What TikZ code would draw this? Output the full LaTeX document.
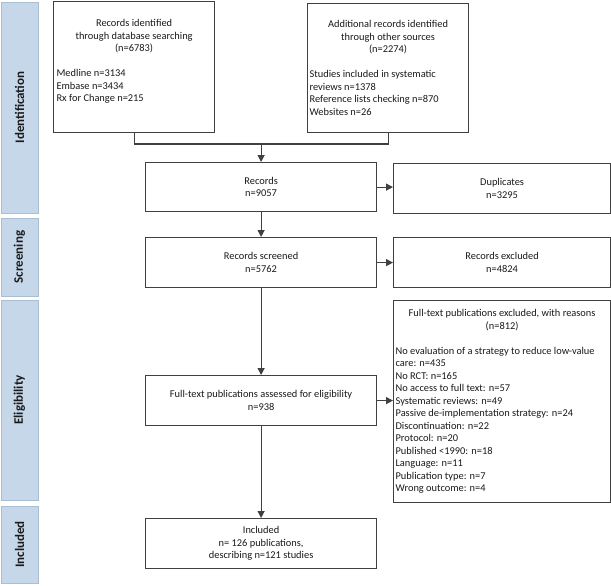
\documentclass[tikz,border=0pt]{standalone}
\usepackage{fontspec}
\setmainfont{Carlito}
\usetikzlibrary{arrows.meta}
\definecolor{ln}{HTML}{404040}
\definecolor{barfill}{HTML}{C6D7EA}
\definecolor{bardraw}{HTML}{A9BDD3}
\definecolor{txt}{HTML}{1A1A1A}
\begin{document}
\begin{tikzpicture}[x=1pt,y=-1pt,
  box/.style={draw=ln, line width=1.2pt, anchor=north west, inner sep=0pt,
    align=center, text=txt, font=\fontsize{10.4}{12.5}\selectfont},
  bar/.style={fill=barfill, draw=bardraw, line width=0.7pt, inner sep=0pt,
    rotate=90, minimum height=37pt, text=txt, font=\fontsize{13}{14}\selectfont\bfseries},
  conn/.style={draw=ln, line width=1.2pt},
  arr/.style={conn, -{Triangle[length=7pt,width=7pt]}}]
\useasboundingbox (0,0) rectangle (611,586);
\fill[white] (0,0) rectangle (611,586);
% phase bars
\node[bar, minimum width=211pt] (pid) at (19.5,107.5) {Identification};
\node[bar, minimum width=78pt] (psc) at (19.5,257) {Screening};
\node[bar, minimum width=200pt] (pel) at (19.5,400) {Eligibility};
\node[bar, minimum width=77pt] (pin) at (19.5,544.5) {Included};
% boxes
\node[box, minimum width=161pt, minimum height=131pt] (db) at (53,1)
  {\begin{minipage}{155pt}\centering Records identified\\through database searching\\(n=6783)\par
   \vspace{12.5pt}\raggedright Medline n=3134\\Embase n=3434\\Rx for Change n=215\\\mbox{}\end{minipage}};
\node[box, minimum width=161pt, minimum height=129pt] (oth) at (307,3)
  {\begin{minipage}{157pt}\centering Additional records identified\\through other sources\\(n=2274)\par
   \vspace{12.5pt}\raggedright Studies included in systematic\\reviews n=1378\\Reference lists checking n=870\\Websites n=26\end{minipage}};
\node[box, minimum width=231pt, minimum height=49pt] (rec) at (145,162) {Records\\n=9057};
\node[box, minimum width=217pt, minimum height=50pt] (dup) at (393,163) {Duplicates\\n=3295};
\node[box, minimum width=231pt, minimum height=50pt] (scr) at (145,237) {Records screened\\n=5762};
\node[box, minimum width=217pt, minimum height=50pt] (exc) at (393,237) {Records excluded\\n=4824};
\node[box, minimum width=231pt, minimum height=50pt] (ft) at (145,375) {Full-text publications assessed for eligibility\\n=938};
\node[box, minimum width=217pt, minimum height=202pt] (ftx) at (393,300)
  {\begin{minipage}{213pt}\centering Full-text publications excluded, with reasons\\(n=812)\par
   \vspace{12.5pt}\raggedright No evaluation of a strategy to reduce low-value\\care: n=435\\No RCT: n=165\\No access to full text: n=57\\Systematic reviews: n=49\\Passive de-implementation strategy: n=24\\Discontinuation: n=22\\Protocol: n=20\\Published <1990: n=18\\Language: n=11\\Publication type: n=7\\Wrong outcome: n=4\end{minipage}};
\node[box, minimum width=231pt, minimum height=50pt] (inc) at (145,518) {Included\\n= 126 publications,\\describing n=121 studies};
% connectors
\coordinate (j) at (rec.north |- 0,144);
\draw[conn] (db.south) |- (j) -| (oth.south);
\draw[arr] (j) -- (rec.north);
\draw[arr] (rec.east) -- (rec.east -| dup.west);
\draw[arr] (rec.south) -- (scr.north);
\draw[arr] (scr.east) -- (scr.east -| exc.west);
\draw[arr] (scr.south) -- (ft.north);
\draw[arr] (ft.east) -- (ft.east -| ftx.west);
\draw[arr] (ft.south) -- (inc.north);
\end{tikzpicture}
\end{document}
